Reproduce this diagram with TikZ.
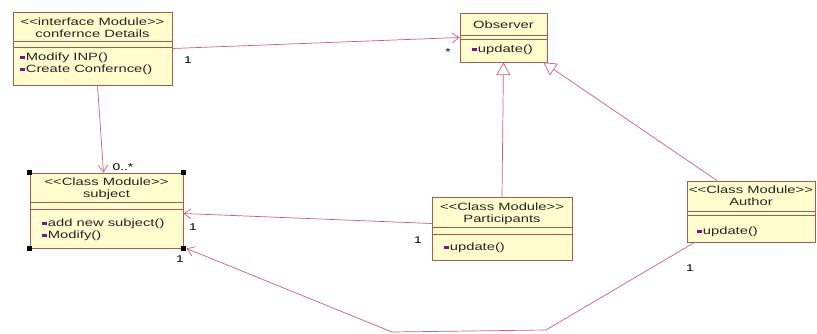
\documentclass[tikz,border=0pt]{standalone}
\usepackage{fontspec}
\setmainfont{Liberation Sans}[FakeStretch=1.4]
\usetikzlibrary{arrows.meta,calc}
\definecolor{boxfill}{RGB}{255,252,206}
\definecolor{boxline}{RGB}{166,90,80}
\definecolor{assoc}{RGB}{205,95,125}
\definecolor{iconpurple}{RGB}{130,20,130}
\newcommand{\lguil}{<\kern0pt<}
\newcommand{\rguil}{>\kern0pt>}
\newcommand{\opicon}{\textcolor{iconpurple}{\rule[0.35ex]{3.5pt}{2.2pt}}\hspace{0.5pt}}
\tikzset{
  classbox/.style={draw=boxline, fill=boxfill, line width=0.6pt, inner sep=0pt},
  hdr/.style={align=center, font=\fontsize{7.5}{8.3}\selectfont, text=black!85, inner sep=0pt},
  ops/.style={align=left, anchor=west, font=\fontsize{7.5}{8.5}\selectfont, text=black!85, inner sep=0pt},
  mult/.style={font=\fontsize{7}{8}\selectfont, inner sep=0pt},
  assocline/.style={draw=assoc, line width=0.5pt},
  navarrow/.style={-{Straight Barb[length=5pt,width=7pt]}},
  inherit/.style={-{Triangle[open,length=9pt,width=10pt,fill=white]}},
}

\begin{document}
\begin{tikzpicture}[x=0.025cm,y=-0.025cm]
\useasboundingbox (0,0) rectangle (817,334);
% class boxes
\node[classbox, minimum width=3.975cm, minimum height=1.825cm] (conf) at (92.5,48.5) {};
\node[classbox, minimum width=3.825cm, minimum height=1.875cm] (subj) at (106.5,210.5) {};
\node[classbox, minimum width=2.175cm, minimum height=1.225cm] (obs) at (503.5,37.5) {};
\node[classbox, minimum width=3.5cm, minimum height=1.575cm] (part) at (502,228.5) {};
\node[classbox, minimum width=3.2cm, minimum height=1.525cm] (auth) at (751,211.5) {};
% compartment lines
\foreach \b/\s/\t in {conf/30/36, subj/30/37, obs/23/27, part/31/38, auth/31/35} {
  \draw[boxline, line width=0.5pt] ($(\b.north west)+(0,\s)$) -- ($(\b.north east)+(0,\s)$);
  \draw[boxline, line width=0.5pt] ($(\b.north west)+(0,\t)$) -- ($(\b.north east)+(0,\t)$);
}
% selection handles
\foreach \c in {north west, north east, south west, south east}
  \fill ([shift={(-2.5,-2.5)}]subj.\c) rectangle ++(5,5);
% texts
\node[hdr] (confname) at (92.5,27.5) {\lguil interface Module\rguil\\confernce Details};
\node[hdr] (subjname) at (106.5,188.5) {\lguil Class Module\rguil\\subject};
\node[hdr] (obsname) at (503.5,24.5) {Observer};
\node[hdr] (partname) at (502,213.5) {\lguil Class Module\rguil\\Participants};
\node[hdr] (authname) at (751,195.5) {\lguil Class Module\rguil\\Author};
\node[ops] (confops) at (20,64) {\opicon Modify INP()\\\opicon Create Confernce()};
\node[ops] (subjops) at (42,230) {\opicon add new subject()\\\opicon Modify()};
\node[ops] (obsops) at (472,50) {\opicon update()};
\node[ops] (partops) at (444,248) {\opicon update()};
\node[ops] (authops) at (697,232) {\opicon update()};
% connectors
\coordinate (bendR) at (546,330);
\coordinate (bendL) at (392,332);
\draw[assocline, navarrow] (conf.east) -- (obs.west);
\draw[assocline, navarrow] ($(conf.south)+(5,0)$) -- ($(subj.north)+(-3,0)$);
\draw[assocline, inherit] (part.north) -- (obs.south);
\draw[assocline, inherit] ($(auth.north)+(-34,0)$) -- ($(obs.south east)+(-4,0)$);
\draw[assocline, navarrow] ($(part.west)+(0,-5)$) -- ($(subj.east)+(0,3)$);
\draw[assocline, navarrow] ($(auth.south west)+(8,0)$) -- (bendR) -- (bendL) -- ($(subj.south east)+(3,0)$);
% multiplicities
\node[mult] (m1) at (188,60) {1};
\node[mult] (m2) at (448,52) {*};
\node[mult] (m3) at (123,167) {0..*};
\node[mult] (m4) at (193,227) {1};
\node[mult] (m5) at (418,240) {1};
\node[mult] (m6) at (180,259) {1};
\node[mult] (m7) at (690,268) {1};
\end{tikzpicture}
\end{document}
